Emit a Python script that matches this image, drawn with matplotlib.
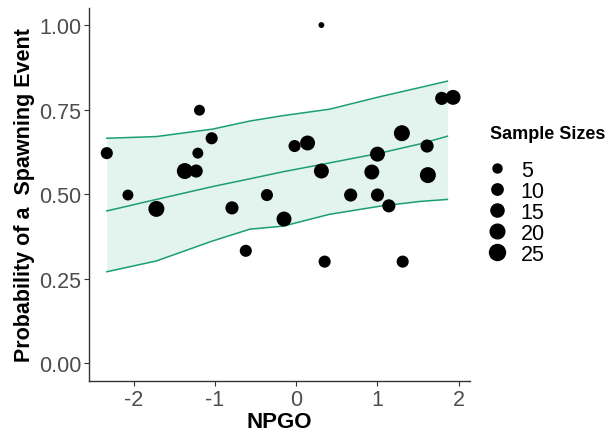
import numpy as np
import matplotlib
matplotlib.use("Agg")
import matplotlib.pyplot as plt
from matplotlib.lines import Line2D

plt.rcParams['font.family'] = ['Liberation Sans', 'DejaVu Sans']
plt.rcParams['axes.unicode_minus'] = False

# observed spawning probabilities by NPGO
npgo = [-2.33, -2.07, -1.72, -1.37, -1.23, -1.21, -1.19, -1.04, -0.79, -0.62,
        -0.36, -0.15, -0.02, 0.14, 0.31, 0.31, 0.35, 0.67, 0.93, 1.00,
        1.00, 1.14, 1.31, 1.30, 1.61, 1.62, 1.79, 1.93]
prob = [0.621, 0.497, 0.456, 0.568, 0.568, 0.621, 0.748, 0.665, 0.459, 0.332,
        0.497, 0.426, 0.642, 0.651, 1.000, 0.568, 0.300, 0.497, 0.565, 0.618,
        0.497, 0.465, 0.300, 0.680, 0.642, 0.556, 0.783, 0.786]
sample_n = [12, 9, 25, 25, 15, 9, 9, 12, 15, 12,
            12, 21, 12, 21, 1, 21, 12, 15, 21, 21,
            15, 15, 12, 25, 15, 25, 15, 21]

# model fit with interval
fit_x = [-2.33, -1.72, -1.03, -0.57, -0.16, 0.41, 1.03, 1.52, 1.86]
fit_mid = [0.450, 0.484, 0.522, 0.545, 0.566, 0.592, 0.621, 0.648, 0.671]
fit_lo = [0.270, 0.302, 0.361, 0.396, 0.405, 0.440, 0.464, 0.478, 0.484]
fit_hi = [0.665, 0.670, 0.692, 0.716, 0.732, 0.751, 0.788, 0.815, 0.834]

legend_n = [5, 10, 15, 20, 25]

line_col = '#1b9e77'


def diam_pt(n):
    # marker diameter (points) scaled on sqrt of sample size
    return (3.34 + 2.53 * np.sqrt(n)) * 0.72


fig = plt.figure(figsize=(6.09, 4.35), dpi=100)
ax = fig.add_axes([0.146, 0.122, 0.626, 0.857])

ax.fill_between(fit_x, fit_lo, fit_hi, color=line_col, alpha=0.12, lw=0)
for yy in (fit_lo, fit_mid, fit_hi):
    ax.plot(fit_x, yy, color=line_col, lw=1.1)

sizes = [diam_pt(n) ** 2 for n in sample_n]
ax.scatter(npgo, prob, s=sizes, color='black', lw=0, zorder=3)

ax.set_xlim(-2.55, 2.14)
ax.set_ylim(-0.053, 1.05)
ax.set_xticks([-2, -1, 0, 1, 2])
ax.set_yticks([0, 0.25, 0.5, 0.75, 1.0])
ax.set_yticklabels(['0.00', '0.25', '0.50', '0.75', '1.00'])
ax.tick_params(labelsize=15.5, labelcolor='#4d4d4d', color='#333333',
               length=3.5, width=0.8, pad=2)
for side in ('top', 'right'):
    ax.spines[side].set_visible(False)
for side in ('left', 'bottom'):
    ax.spines[side].set_color('#333333')
    ax.spines[side].set_linewidth(1.0)

ax.set_xlabel('NPGO', fontsize=16, fontweight='bold', labelpad=1)
ax.set_ylabel('Probability of a  Spawning Event', fontsize=15.5,
              fontweight='bold', labelpad=3)

fig.text(490 / 609, 1 - 135 / 435, 'Sample Sizes', fontsize=13,
         fontweight='bold', ha='left', va='center')
handles = [Line2D([], [], ls='none', marker='o', color='black',
                  markersize=diam_pt(n)) for n in legend_n]
leg = ax.legend(handles, [str(n) for n in legend_n],
                loc='center left', bbox_to_anchor=(1.02, 0.452), frameon=False,
                fontsize=15.5, handlelength=1.0, handletextpad=0.6,
                labelspacing=0.0, borderaxespad=0)

fig.savefig('out.png', dpi=100)
